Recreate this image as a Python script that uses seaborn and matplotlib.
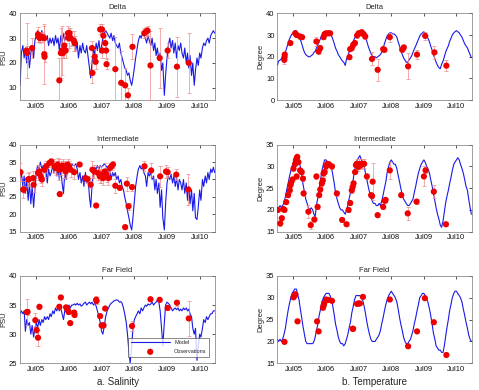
import pandas as pd
import matplotlib
matplotlib.use("Agg")
import matplotlib.pyplot as plt
import matplotlib.dates as mdates
import seaborn as sns

# model output, sampled on the 1st and 15th of each month, Jan 2005 - Dec 2010
model_dates = pd.date_range("2005-01-01", periods=144, freq="SMS")

delta_sal = [
    11, 24, 27, 22, 26, 20, 25, 18, 24, 27, 22, 29, 31, 33, 32, 31, 33, 30, 32, 29, 31, 27, 30, 28,
    30, 27, 31, 28, 30, 25, 31, 28, 32, 29, 31, 30, 32, 29, 31, 27, 30, 25, 28, 22, 27, 24, 28, 25,
    24, 27, 22, 18, 14, 20, 26, 23, 28, 25, 29, 24, 27, 30, 32, 33, 32, 31, 30, 32, 29, 31, 28, 27,
    26, 28, 24, 22, 20, 18, 17, 15, 16, 13, 11, 14, 18, 22, 26, 29, 31, 30, 32, 31, 30, 28, 31, 29,
    27, 30, 25, 28, 23, 26, 21, 24, 17, 20, 7, 15, 22, 27, 30, 26, 29, 24, 28, 22, 27, 25, 28, 24,
    22, 26, 20, 24, 18, 23, 15, 20, 11, 17, 22, 19, 24, 22, 26, 28, 27, 29, 30, 28, 31, 32, 33, 32,
]
inter_sal = [
    30, 32, 28, 31, 26, 30, 24, 29, 23, 28, 22, 27, 32, 34, 33, 35, 33, 34, 32, 33, 29, 33, 31, 32,
    34, 32, 34.5, 31, 33.5, 30, 33, 29, 26, 32, 30, 33, 34, 33.5, 34.5, 34, 34, 34.5, 33, 30, 32, 29, 31, 28,
    32, 29, 30, 25, 22, 28, 32, 33.5, 33, 34, 33, 34, 33.5, 34, 34.5, 34, 33.5, 32, 33, 30, 32, 31, 32, 30,
    31, 29, 30, 28, 27, 25, 23, 21, 19, 17, 15.5, 19, 24, 28, 31, 33, 34, 33, 33.5, 32, 31, 28, 32, 31,
    32, 30, 31, 27, 30, 26, 29, 22, 27, 19, 15.5, 23, 29, 31, 30, 31.5, 29, 31, 28, 30.5, 27, 30, 29, 27,
    30, 26, 29, 24, 28, 23, 27, 21, 26, 19, 18.5, 22, 27, 24, 30, 28, 31, 29, 32, 30, 33, 32, 33.5, 32,
]
far_sal = [
    33.5, 34, 33.5, 34, 30.5, 32.5, 31.5, 32, 30, 31.5, 29.5, 31, 32, 31, 32.5, 31.5, 32.5, 32, 33, 32.5, 33, 32.5, 33.5, 33,
    34, 33.5, 34.5, 34, 34.5, 34, 34.5, 33.5, 32.5, 34, 34.5, 34.5, 35, 34.5, 35, 35, 35.2, 35, 35.3, 35, 35.2, 34.8, 35, 35.3,
    35.5, 35, 35.3, 35.5, 35.2, 35.5, 35, 35.3, 34.8, 34, 33, 32, 30.5, 30, 31.5, 33, 34, 34.5, 35, 35.3, 35.5, 35.7, 35.8, 35.9,
    35.8, 35.5, 35.6, 35.3, 34.5, 33.5, 32, 30, 27, 25, 28, 31, 32.5, 33, 33.5, 34, 33.5, 34.5, 34, 34.5, 35, 34.8, 35.2, 35,
    35.2, 35.5, 35, 35.3, 35.5, 35.8, 35.5, 34, 31, 28, 32, 35, 35.5, 35.3, 35, 34.5, 34, 34.3, 34.5, 34.2, 34.5, 34, 34.3, 34,
    34.5, 34.2, 34.5, 34, 34.3, 33.5, 33, 31, 30, 31, 25.5, 28, 30, 29.5, 31, 32.5, 32, 33, 32.5, 33, 33.5, 33.5, 34, 34,
]
delta_temp = [
    16, 18, 18.5, 19, 20, 21, 22, 24, 26, 28, 29.5, 30.5, 31, 32, 32, 31, 30, 28, 26, 24, 22, 21, 20.5, 20,
    20, 20.5, 21, 22, 22.5, 24, 25.5, 27, 28.5, 30, 31, 31.5, 31.5, 31, 31, 30.5, 29.5, 28, 26, 24, 22.5, 21, 20, 19,
    18, 17.5, 16, 19, 20, 22, 23.5, 25, 27, 28.5, 29.5, 30.5, 31.5, 32, 31.5, 31, 30.5, 29, 27, 25, 23, 21.5, 20.5, 20,
    20, 19.5, 20, 20.5, 21, 22, 24, 26, 28, 29.5, 30.5, 31, 31, 30.5, 30.5, 30, 29, 27, 25, 23, 21, 19.5, 18.5, 17.5,
    17.5, 18.5, 19.5, 20.5, 22, 23.5, 25, 26.5, 28, 29.5, 30.5, 31, 31.5, 30.5, 29.5, 28.5, 27, 25, 23, 21, 19, 17.5, 16, 15,
    14.5, 16.5, 18, 20, 22, 23.5, 25, 27, 28.5, 30, 31, 31.5, 32, 31.5, 31, 30, 29, 27.5, 26, 25, 24, 22.5, 21, 19.5,
]
inter_temp = [
    20, 20.5, 21, 20.5, 21, 21.5, 23, 24.5, 26, 27.5, 29, 30, 31, 31.5, 32, 32, 31, 30, 28, 26, 24, 22.5, 21.5, 20.5,
    20, 20.5, 20, 19, 18.5, 21, 23, 25, 27, 29, 30.5, 31.5, 31.5, 31, 31, 30.5, 29.5, 28, 26, 24, 22.5, 21.5, 20.5, 20,
    20, 19.5, 19, 20, 21, 22.5, 24, 25.5, 27, 29, 30.5, 31.5, 32, 32.5, 31.5, 31, 30, 28.5, 27, 25.5, 24, 23, 22, 21.5,
    21.5, 21, 21, 21.5, 21, 22, 23.5, 25, 26.5, 28.5, 30, 31, 31.5, 31, 30.5, 30.5, 29.5, 28, 26.5, 25, 23.5, 22.5, 22, 21.5,
    21, 21, 21.5, 22, 22.5, 24, 25.5, 27, 28.5, 29.5, 30.5, 31, 31.5, 31, 30, 29.5, 28.5, 27, 25.5, 24, 22, 20.5, 19, 18,
    16.5, 16, 17.5, 19.5, 21.5, 23, 24.5, 26, 27.5, 29, 30.5, 31, 31.5, 32, 31.5, 30.5, 29.5, 28.5, 27, 25.5, 24.5, 22.5, 20.5, 19,
]
far_temp = [
    20.5, 20, 20.5, 20, 20.5, 21.5, 23, 25, 27, 28.5, 30, 31, 31.5, 32, 32, 31, 29.5, 27.5, 25.5, 23.5, 21.5, 20, 19.5, 19.5,
    19.5, 19.5, 19.5, 20, 21, 22.5, 24, 26, 27.5, 29, 30, 30.5, 31, 31, 31, 30.5, 29.5, 28, 26, 24, 22.5, 21, 20, 19.5,
    19.5, 19, 19.5, 20.5, 21.5, 23, 24.5, 26.5, 28, 29.5, 30.5, 30.5, 30.5, 30.5, 30, 29.5, 28, 26.5, 24.5, 23, 21.5, 20.5, 20, 20,
    20, 20.5, 21, 21.5, 22.5, 24, 25.5, 27, 28.5, 29.5, 30.5, 31, 31.5, 31, 30.5, 30, 29, 27.5, 25.5, 24, 22.5, 21, 20, 19.5,
    19.5, 20, 20.5, 21.5, 22.5, 24, 25.5, 27, 28.5, 30, 30.5, 31, 31, 30.5, 30, 29, 27.5, 26, 24, 22, 20.5, 19, 18.5, 18,
    18, 17.5, 17.5, 19, 21, 23, 25, 27, 28.5, 30, 31, 31.5, 31.5, 31, 30.5, 30, 29, 27.5, 26, 24.5, 23, 21.5, 20.5, 20,
]

# observations: (date, value, error)
delta_sal_obs = [
    ("2005-03-15", 25, 11), ("2005-03-22", 24, 3), ("2005-05-15", 26, 4), ("2005-07-20", 31.5, 3),
    ("2005-07-28", 30.5, 2), ("2005-08-10", 30, 2), ("2005-09-05", 30.5, 2), ("2005-09-25", 30, 5),
    ("2005-09-28", 23.5, 12), ("2005-10-01", 22.5, 2), ("2006-03-15", 13, 9), ("2006-04-01", 24, 10),
    ("2006-04-15", 25, 10), ("2006-04-25", 24, 2), ("2006-05-10", 27, 5), ("2006-05-25", 25, 3),
    ("2006-06-20", 32, 3), ("2006-06-28", 30, 4), ("2006-07-08", 32, 2), ("2006-07-20", 30, 3),
    ("2006-08-25", 29, 4), ("2006-09-05", 28, 3), ("2007-03-15", 26, 3), ("2007-03-20", 16, 4),
    ("2007-04-15", 22.5, 3), ("2007-04-25", 20.5, 3), ("2007-06-15", 33.5, 2), ("2007-07-05", 33.5, 2),
    ("2007-07-08", 25, 3), ("2007-07-20", 31, 2), ("2007-08-10", 28, 3), ("2007-08-20", 25, 3),
    ("2007-08-25", 19.5, 2), ("2007-12-01", 17.5, 13), ("2008-02-05", 12, 13), ("2008-03-20", 11, 7),
    ("2008-04-20", 7, 3), ("2008-06-10", 26.5, 5), ("2008-10-20", 32, 2), ("2008-11-05", 32.5, 2),
    ("2008-11-25", 33, 2), ("2008-12-28", 19, 14), ("2009-04-10", 22, 12), ("2009-07-08", 25, 3),
    ("2009-10-20", 18.5, 12), ("2010-03-01", 20, 12),
]
delta_temp_obs = [
    ("2005-03-20", 18.6, 2), ("2005-03-22", 19.8, 2), ("2005-03-25", 21, 1), ("2005-05-27", 26.3, 1),
    ("2005-07-20", 30.8, 1), ("2005-08-05", 30, 1), ("2005-09-13", 29.3, 1), ("2005-10-05", 29, 1),
    ("2006-03-15", 27, 2), ("2006-04-08", 22.4, 1), ("2006-04-27", 24, 1), ("2006-06-03", 29, 1),
    ("2006-06-15", 30.4, 1), ("2006-07-01", 30.8, 1), ("2006-07-25", 30.8, 1), ("2006-08-15", 30.8, 1),
    ("2007-03-20", 19.8, 1), ("2007-03-28", 23.5, 1), ("2007-04-15", 24, 1), ("2007-05-01", 25.5, 1),
    ("2007-05-20", 26.3, 1), ("2007-06-14", 29.8, 1), ("2007-07-01", 30.8, 1), ("2007-07-20", 30.8, 1),
    ("2007-08-05", 31.3, 1), ("2007-08-25", 30.4, 1), ("2007-09-13", 29.3, 1), ("2007-11-28", 19, 3),
    ("2008-01-30", 14, 5), ("2008-04-01", 23.5, 1), ("2008-04-15", 23.2, 1), ("2008-06-14", 29, 2),
    ("2008-10-31", 23.2, 1), ("2008-11-18", 24.3, 1), ("2009-01-05", 15.6, 6), ("2009-04-15", 21, 2),
    ("2009-07-16", 29.6, 2), ("2009-10-27", 22, 3), ("2010-03-10", 15.9, 2.5),
]
inter_sal_obs = [
    ("2005-01-05", 32.1, 2.5), ("2005-02-05", 27.1, 2.5), ("2005-02-10", 27.1, 1), ("2005-04-01", 30, 2),
    ("2005-04-10", 30.1, 2), ("2005-05-27", 30.4, 2), ("2005-06-01", 28.5, 2), ("2005-07-20", 31.9, 2),
    ("2005-08-05", 32.3, 2), ("2005-08-20", 30.9, 2), ("2005-09-01", 30, 2), ("2005-10-01", 32.8, 2),
    ("2005-10-20", 33.8, 1.5), ("2005-11-25", 34.7, 1), ("2005-12-15", 35.2, 0.5), ("2006-01-20", 33.8, 2),
    ("2006-02-05", 33.3, 2), ("2006-02-25", 34.3, 2), ("2006-03-15", 32.8, 3), ("2006-03-20", 25.8, 0.5),
    ("2006-04-01", 33.3, 2), ("2006-04-20", 34, 2), ("2006-05-10", 32.8, 2.5), ("2006-05-27", 32.3, 2),
    ("2006-06-15", 34.3, 1.5), ("2006-07-01", 33.8, 1.5), ("2006-07-20", 32.8, 2), ("2006-08-28", 32.1, 2),
    ("2006-10-28", 34.3, 0.5), ("2007-01-01", 30.4, 1), ("2007-01-25", 30.1, 1), ("2007-03-01", 28.5, 1),
    ("2007-03-20", 32.8, 2.5), ("2007-04-10", 32.3, 2), ("2007-05-01", 22.5, 0.5), ("2007-05-20", 31.9, 2),
    ("2007-06-10", 30.9, 2), ("2007-06-28", 31.4, 2.5), ("2007-07-15", 30.4, 2), ("2007-08-05", 32.3, 2.5),
    ("2007-08-25", 31.4, 2), ("2007-09-15", 30.4, 2), ("2007-10-01", 33.3, 1.5), ("2007-10-20", 33.8, 1),
    ("2007-11-05", 34.3, 1), ("2007-12-01", 28.2, 2), ("2008-01-20", 27.6, 0.5), ("2008-03-20", 16.3, 0.5),
    ("2008-04-08", 28.8, 2), ("2008-04-27", 22.3, 1), ("2008-06-05", 27.8, 1), ("2008-10-22", 33.8, 1.5),
    ("2009-01-05", 32.6, 2), ("2009-04-15", 30.9, 3), ("2009-06-20", 32.3, 2), ("2009-07-08", 32.1, 1.5),
    ("2009-10-12", 31.4, 1.5), ("2010-02-25", 27.1, 4.5),
]
inter_temp_obs = [
    ("2005-01-08", 20, 0.5), ("2005-02-03", 16.9, 0.5), ("2005-02-20", 18.1, 0.5), ("2005-03-10", 20.2, 0.5),
    ("2005-03-22", 20, 0.5), ("2005-04-10", 21.8, 0.5), ("2005-05-01", 23.4, 0.5), ("2005-05-20", 24.5, 0.5),
    ("2005-05-28", 25.7, 0.5), ("2005-06-03", 26.2, 0.5), ("2005-06-20", 27, 0.5), ("2005-07-01", 29.5, 0.5),
    ("2005-07-20", 30.6, 0.5), ("2005-07-28", 31.4, 0.5), ("2005-08-05", 31.8, 0.5), ("2005-08-12", 32.2, 0.5),
    ("2005-08-25", 31, 0.5), ("2005-08-05", 27.7, 0.5), ("2005-09-13", 29.1, 0.5), ("2005-10-01", 28.7, 0.5),
    ("2005-10-15", 27.2, 0.5), ("2005-10-22", 23.8, 0.5), ("2005-12-15", 19.6, 1.5), ("2006-01-10", 16.5, 1),
    ("2006-02-20", 17.8, 0.5), ("2006-03-15", 27.7, 0.5), ("2006-03-28", 20.7, 0.5), ("2006-04-15", 23.4, 0.5),
    ("2006-04-27", 24.7, 0.5), ("2006-05-15", 26.1, 0.5), ("2006-05-25", 26.8, 0.5), ("2006-06-03", 28.4, 0.5),
    ("2006-06-15", 28.7, 0.5), ("2006-07-01", 30, 0.5), ("2006-07-15", 30.6, 0.5), ("2006-08-01", 30.5, 0.5),
    ("2006-09-05", 30, 0.5), ("2006-10-30", 23.8, 0.5), ("2006-12-28", 17.7, 0.5), ("2007-02-15", 16.7, 0.5),
    ("2007-03-10", 20, 0.5), ("2007-03-28", 21.6, 0.5), ("2007-04-15", 24.5, 0.5), ("2007-04-25", 25.3, 0.5),
    ("2007-05-05", 26.1, 0.5), ("2007-05-22", 28.7, 0.5), ("2007-06-01", 30.3, 0.5), ("2007-06-10", 30.6, 1),
    ("2007-06-28", 29.9, 1), ("2007-07-10", 30.6, 1), ("2007-07-25", 30.3, 1), ("2007-08-10", 30.6, 1),
    ("2007-09-01", 30.6, 1), ("2007-10-01", 27.7, 0.5), ("2007-11-18", 23.4, 0.5), ("2007-11-28", 23.2, 0.5),
    ("2007-12-05", 26.5, 4.3), ("2008-01-30", 18.8, 0.5), ("2008-04-01", 20.7, 0.5), ("2008-04-20", 22.1, 0.5),
    ("2008-04-28", 22.3, 0.5), ("2008-06-14", 29.1, 2), ("2008-10-20", 23.4, 0.5), ("2009-01-01", 19.2, 1.5),
    ("2009-04-10", 21.9, 0.5), ("2009-07-01", 27.7, 2.3), ("2009-07-20", 29.1, 0.5), ("2009-10-20", 24.2, 1.5),
    ("2010-03-05", 16.7, 0.5),
]
far_sal_obs = [
    ("2005-03-18", 33.8, 2.3), ("2005-03-25", 33.8, 0.5), ("2005-06-20", 32.4, 1.2), ("2005-07-05", 30.7, 0.5),
    ("2005-07-20", 29.4, 1.4), ("2005-08-05", 34.7, 0.3), ("2006-03-15", 34.7, 0.3), ("2006-04-01", 36.3, 0.3),
    ("2006-05-30", 34.6, 0.3), ("2006-06-15", 34.2, 0.3), ("2006-06-28", 33.8, 0.3), ("2006-07-15", 31.9, 0.3),
    ("2006-08-28", 33.7, 0.3), ("2006-09-01", 33.3, 0.3), ("2007-05-01", 35.9, 0.6), ("2007-05-05", 35.7, 0.6),
    ("2007-06-14", 33.1, 0.3), ("2007-07-01", 31.5, 0.3), ("2007-07-15", 31.5, 0.3), ("2007-07-22", 31.5, 0.3),
    ("2007-08-10", 34.4, 0.3), ("2008-06-05", 31.4, 0.8), ("2008-12-28", 36, 0.3), ("2009-04-10", 35.9, 0.3),
    ("2009-07-08", 34.5, 0.3), ("2009-10-20", 35.4, 0.5), ("2010-03-01", 32.7, 3),
]
far_temp_obs = [
    ("2005-03-22", 19.9, 0.3), ("2005-07-01", 30.1, 0.3), ("2005-07-15", 30.5, 0.3), ("2005-07-22", 30.8, 0.3),
    ("2005-08-15", 24.6, 0.3), ("2006-03-22", 24.6, 0.3), ("2006-04-08", 22.3, 0.3), ("2006-05-27", 27.7, 0.3),
    ("2006-06-03", 28.2, 0.3), ("2006-06-10", 28.7, 0.3), ("2006-07-01", 29.6, 0.3), ("2006-07-25", 29.5, 0.3),
    ("2006-09-05", 29.3, 0.3), ("2007-04-25", 22.9, 0.3), ("2007-04-30", 22.9, 0.3), ("2007-06-14", 28.6, 0.3),
    ("2007-06-28", 28.7, 0.3), ("2007-07-15", 28.7, 0.3), ("2007-08-18", 30.2, 0.3), ("2008-06-14", 29.6, 0.3),
    ("2009-01-05", 18.9, 0.3), ("2009-04-15", 22.3, 0.3), ("2009-07-12", 29.9, 0.3), ("2009-10-20", 24.4, 0.3),
    ("2010-03-10", 16.9, 0.3),
]

panels = [
    # title, model, obs, ylabel, ylim, yticks, axes rect
    ("Delta", delta_sal, delta_sal_obs, "PSU", (5, 40), [10, 20, 30, 40], [0.042, 0.743, 0.407, 0.223]),
    ("Delta", delta_temp, delta_temp_obs, "Degree", (0, 40), [0, 10, 20, 30, 40], [0.579, 0.743, 0.406, 0.223]),
    ("Intermediate", inter_sal, inter_sal_obs, "PSU", (15, 40), [15, 20, 25, 30, 35, 40], [0.042, 0.406, 0.407, 0.223]),
    ("Intermediate", inter_temp, inter_temp_obs, "Degree", (15, 35), [15, 20, 25, 30, 35], [0.579, 0.406, 0.406, 0.223]),
    ("Far Field", far_sal, far_sal_obs, "PSU", (25, 40), [25, 30, 35, 40], [0.042, 0.0685, 0.407, 0.224]),
    ("Far Field", far_temp, far_temp_obs, "Degree", (15, 35), [15, 20, 25, 30, 35], [0.579, 0.0685, 0.406, 0.224]),
]

sns.set_theme(style="white")
plt.rcParams["font.family"] = ["Liberation Sans", "DejaVu Sans"]

fig = plt.figure(figsize=(4.79, 3.9), dpi=100)
axes = []
for title, model, obs, ylab, ylim, yticks, rect in panels:
    ax = fig.add_axes(rect)
    od = pd.DataFrame(obs, columns=["date", "value", "err"])
    od["date"] = pd.to_datetime(od["date"])
    sns.lineplot(x=model_dates, y=model, ax=ax, color="#1a1ae8", lw=0.8, label="Model")
    ax.errorbar(od["date"], od["value"], yerr=od["err"], fmt="none", ecolor="#ee8a8a",
                elinewidth=0.5, capsize=1.4, capthick=0.5, zorder=3)
    sns.scatterplot(data=od, x="date", y="value", ax=ax, color="#ee0000", s=20,
                    edgecolor="none", zorder=4, label="Observations")
    ax.set_xlim(pd.Timestamp("2005-01-01"), pd.Timestamp("2010-12-20"))
    ax.set_ylim(*ylim)
    ax.set_yticks(yticks)
    ax.xaxis.set_major_locator(mdates.MonthLocator(bymonth=7))
    ax.xaxis.set_major_formatter(mdates.DateFormatter("%b%y"))
    ax.tick_params(direction="in", length=2, width=0.5, labelsize=5.5, pad=2,
                   top=True, right=True, colors="#111111")
    for s in ax.spines.values():
        s.set_linewidth(0.5)
        s.set_color("#777777")
    ax.set_title(title, fontsize=5.5, pad=3)
    ax.set_xlabel("")
    ax.set_ylabel(ylab, fontsize=5.5, labelpad=1)
    ax.get_legend().remove()
    axes.append(ax)

leg = axes[4].legend(loc="lower right", fontsize=4, handlelength=7, frameon=True,
                     fancybox=False, edgecolor="#333333", borderpad=0.5, labelspacing=0.7,
                     bbox_to_anchor=(0.985, 0.04))
leg.get_frame().set_linewidth(0.5)

fig.text(0.246, 0.012, "a. Salinity", ha="center", fontsize=7)
fig.text(0.782, 0.012, "b. Temperature", ha="center", fontsize=7)

plt.savefig("out.png", dpi=100)
plt.close()
